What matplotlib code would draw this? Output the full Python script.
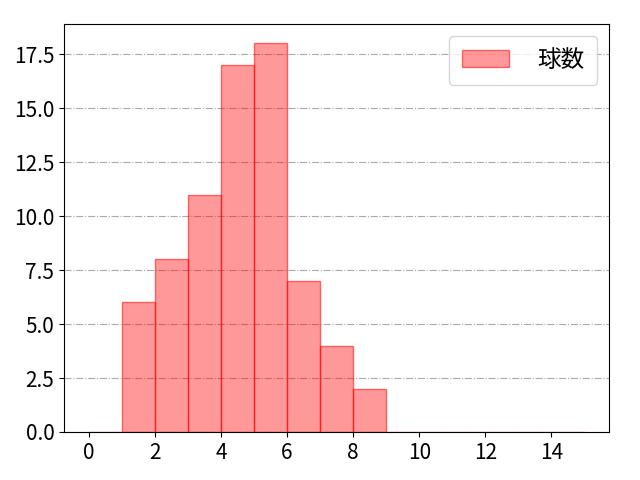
import numpy as np
import matplotlib
matplotlib.use("Agg")
import matplotlib.pyplot as plt

plt.rcParams['font.family'] = ['Noto Sans CJK JP', 'DejaVu Sans']

bin_left = list(range(0, 15))
counts = [0, 6, 8, 11, 17, 18, 7, 4, 2, 0, 0, 0, 0, 0, 0]

fig, ax = plt.subplots(figsize=(6.4, 4.8), dpi=100)
ax.bar(bin_left, counts, width=1, align='edge',
       facecolor=(1, 0, 0, 0.4), edgecolor=(1, 0, 0, 0.55), linewidth=1, label='球数')
ax.grid(axis='y', linestyle='-.', color='#aaaaaa', linewidth=0.8)
ax.set_axisbelow(True)
ax.set_xticks(range(0, 15, 2))
ax.tick_params(labelsize=15)
ax.legend(fontsize=17, loc='upper right', handlelength=2.0, handletextpad=1.2,
          borderpad=0.55)
fig.subplots_adjust(left=0.1, right=0.952, top=0.95, bottom=0.1)
fig.savefig('out.png')
